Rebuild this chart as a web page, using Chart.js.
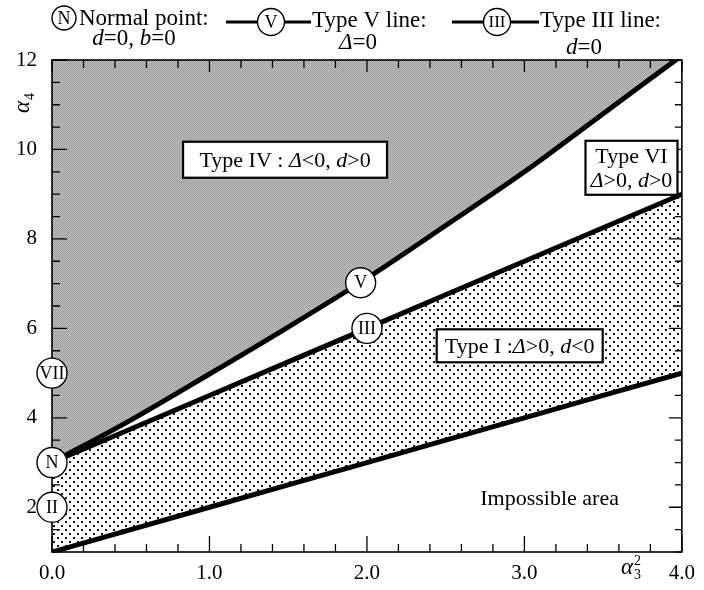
<!DOCTYPE html>
<html><head><meta charset="utf-8">
<script src="https://cdn.jsdelivr.net/npm/chart.js@4.4.1/dist/chart.umd.min.js"></script>
<style>html,body{margin:0;padding:0;background:#fff}#wrap{width:704px;height:590px;position:relative}</style>
</head><body><div id="wrap"><canvas id="c" width="704" height="590"></canvas></div>
<script>
// ---- data ----
const xPoints      = [0, 0.5, 1, 1.5, 2, 2.5, 3, 3.5, 4];
const typeVLine    = [3.0, 3.95, 4.98, 6.03, 7.12, 8.3, 9.5, 10.8, 12.1];
const typeIIILine  = [3.0, 3.75, 4.5, 5.25, 6.0, 6.75, 7.5, 8.25, 9.0];
const limitLine    = [1.0, 1.5, 2.0, 2.5, 3.0, 3.5, 4.0, 4.5, 5.0];
const markerNames  = ['N', 'II', 'VII', 'V', 'III'];
const markerX      = [0, 0, 0, 1.96, 2.0];
const markerY      = [3.0, 2.0, 5.0, 7.02, 6.0];
const xTickValues  = [0, 1, 2, 3, 4];
const yTickValues  = [2, 4, 6, 8, 10, 12];
const regionNames  = ['Type IV', 'Type VI', 'Type I', 'Impossible area'];
const regionX      = [1.48, 3.68, 2.97, 3.16];
const regionY      = [9.77, 9.59, 5.61, 2.21];

const SERIF = '"Liberation Serif", "Times New Roman", serif';

function pts(xs, ys){ return xs.map((x,i)=>({x, y: ys[i]})); }

// patterns
function grayPattern(){
  const c=document.createElement('canvas'); c.width=4; c.height=4;
  const g=c.getContext('2d');
  const tile=[['#9a9a9a','#c2c2c2','#a0a0a0','#bdbdbd'],
              ['#c0c0c0','#959595','#c4c4c4','#9c9c9c'],
              ['#a2a2a2','#bebebe','#989898','#c1c1c1'],
              ['#bcbcbc','#9e9e9e','#c3c3c3','#969696']];
  for(let r=0;r<4;r++)for(let q=0;q<4;q++){g.fillStyle=tile[r][q];g.fillRect(q,r,1,1);}
  return g.createPattern(c,'repeat');
}
function dotPattern(){
  const c=document.createElement('canvas'); c.width=8; c.height=8;
  const g=c.getContext('2d');
  g.fillStyle='#fff'; g.fillRect(0,0,8,8);
  g.fillStyle='#111'; g.fillRect(1,1,2,2); g.fillRect(5,5,2,2);
  return g.createPattern(c,'repeat');
}
const ctx0=document.getElementById('c').getContext('2d');

function richWidth(ctx, segs, size){
  let w=0; segs.forEach(s=>{ctx.font=(s.i?'italic ':'')+size+'px '+SERIF; w+=ctx.measureText(s.t).width;}); return w;
}
function drawRich(ctx, segs, x, y, size, align){
  const w=richWidth(ctx,segs,size);
  let cx = align==='center'? x-w/2 : (align==='right'? x-w : x);
  ctx.textAlign='left';
  segs.forEach(s=>{ctx.font=(s.i?'italic ':'')+size+'px '+SERIF; ctx.fillText(s.t,cx,y); cx+=ctx.measureText(s.t).width;});
  return w;
}
function circleLabel(ctx, cx, cy, r, label, size){
  ctx.save();
  ctx.beginPath(); ctx.arc(cx,cy,r,0,Math.PI*2); ctx.fillStyle='#fff'; ctx.fill();
  ctx.lineWidth=1.4; ctx.strokeStyle='#000'; ctx.stroke();
  ctx.fillStyle='#000'; ctx.font=size+'px '+SERIF; ctx.textAlign='center'; ctx.textBaseline='middle';
  ctx.fillText(label,cx,cy+1);
  ctx.restore();
}

const regionText = {
  'Type IV': [[{t:'Type IV : '},{t:'Δ',i:true},{t:'<0, '},{t:'d',i:true},{t:'>0'}]],
  'Type VI': [[{t:'Type VI'}],[{t:'Δ',i:true},{t:'>0, '},{t:'d',i:true},{t:'>0'}]],
  'Type I':  [[{t:'Type I :'},{t:'Δ',i:true},{t:'>0, '},{t:'d',i:true},{t:'<0'}]],
  'Impossible area': [[{t:'Impossible area'}]]
};
const regionBox = { 'Type IV':[204,36], 'Type VI':[92,54], 'Type I':[166,33], 'Impossible area':null };

const framePlugin = {
  id:'frame',
  beforeDatasetDraw(chart, args){
    if (args.index!==3) return;
    const {ctx, chartArea:a, scales:{x,y}} = chart;
    ctx.save();
    ctx.strokeStyle='#000'; ctx.lineWidth=1.6;
    ctx.strokeRect(a.left, a.top, a.right-a.left, a.bottom-a.top);
    ctx.lineWidth=1.3;
    ctx.beginPath();
    for (let i=0;i<=20;i++){
      const p=x.getPixelForValue(i*0.2), major=(i%5===0);
      ctx.moveTo(p,a.bottom); ctx.lineTo(p,a.bottom-(major?16:8));
      ctx.moveTo(p,a.top); ctx.lineTo(p,a.top+(major?12:8));
    }
    for (let i=0;i<=22;i++){
      const v=1+i*0.5, p=y.getPixelForValue(v), major=(v%2===0);
      ctx.moveTo(a.left,p); ctx.lineTo(a.left+(major?15:8),p);
      ctx.moveTo(a.right,p); ctx.lineTo(a.right-(major?13:7),p);
    }
    ctx.stroke();
    ctx.restore();
  },
  afterDatasetsDraw(chart){
    const {ctx, scales:{x,y}} = chart;
    ctx.save();
    ctx.fillStyle='#000';
    const meta=chart.getDatasetMeta(3);
    meta.data.forEach((pt,i)=>{
      ctx.font='18px '+SERIF; ctx.textAlign='center'; ctx.textBaseline='middle';
      ctx.fillText(markerNames[i], pt.x, pt.y+1);
    });
    regionNames.forEach((name,i)=>{
      const cx=x.getPixelForValue(regionX[i]), cy=y.getPixelForValue(regionY[i]);
      const box=regionBox[name]; const lines=regionText[name];
      if (box){
        ctx.fillStyle='#fff'; ctx.fillRect(cx-box[0]/2, cy-box[1]/2, box[0], box[1]);
        ctx.strokeStyle='#000'; ctx.lineWidth=2.2; ctx.strokeRect(cx-box[0]/2, cy-box[1]/2, box[0], box[1]);
      }
      ctx.fillStyle='#000'; ctx.textBaseline='middle';
      const lh=24, n=lines.length;
      lines.forEach((segs,k)=>{
        drawRich(ctx, segs, cx, cy+(k-(n-1)/2)*lh+1, 22, 'center');
      });
    });
    ctx.restore();
  },
  afterDraw(chart){
    const {ctx} = chart;
    ctx.save(); ctx.fillStyle='#000'; ctx.strokeStyle='#000';
    ctx.textBaseline='alphabetic';
    circleLabel(ctx, 64, 18, 12, 'N', 18);
    ctx.fillStyle='#000';
    drawRich(ctx, [{t:'Normal point:'}], 79, 25, 23, 'left');
    drawRich(ctx, [{t:'d',i:true},{t:'=0, '},{t:'b',i:true},{t:'=0'}], 134, 45, 23, 'center');
    ctx.lineWidth=3.2;
    ctx.beginPath(); ctx.moveTo(226,22); ctx.lineTo(258,22); ctx.moveTo(285,22); ctx.lineTo(311,22); ctx.stroke();
    circleLabel(ctx, 271, 22, 13.5, 'V', 18);
    ctx.fillStyle='#000'; ctx.textBaseline='alphabetic';
    drawRich(ctx, [{t:'Type V line:'}], 312, 27, 23, 'left');
    drawRich(ctx, [{t:'Δ',i:true},{t:'=0'}], 358, 49, 23, 'center');
    ctx.lineWidth=3.2;
    ctx.beginPath(); ctx.moveTo(452,22); ctx.lineTo(485,22); ctx.moveTo(510,22); ctx.lineTo(539,22); ctx.stroke();
    circleLabel(ctx, 497, 22, 13.5, 'III', 17);
    ctx.fillStyle='#000'; ctx.textBaseline='alphabetic';
    drawRich(ctx, [{t:'Type III line:'}], 540, 27, 23, 'left');
    drawRich(ctx, [{t:'d',i:true},{t:'=0'}], 584, 54, 23, 'center');
    ctx.save();
    ctx.translate(29, 113); ctx.rotate(-Math.PI/2);
    ctx.font='italic 23px '+SERIF; ctx.textAlign='left'; ctx.fillText('α',0,0);
    const aw=ctx.measureText('α').width;
    ctx.font='14px '+SERIF; ctx.fillText('4', aw+1, 5);
    ctx.restore();
    ctx.font='italic 23px '+SERIF; ctx.textAlign='left'; ctx.fillText('α',621,574);
    const w2=ctx.measureText('α').width;
    ctx.font='14px '+SERIF; ctx.fillText('2',621+w2+1,565); ctx.fillText('3',621+w2+1,579);
    ctx.restore();
  }
};

const tickFont = {family: SERIF, size: 21};

new Chart(ctx0, {
  type:'line',
  data:{ datasets:[
    { label:'Type V line', data:pts(xPoints,typeVLine), borderColor:'#000', borderWidth:5, pointRadius:0,
      fill:'end', backgroundColor:grayPattern(), cubicInterpolationMode:'monotone', order:1 },
    { label:'Type III line', data:pts(xPoints,typeIIILine), borderColor:'#000', borderWidth:5, pointRadius:0,
      fill:false, order:1 },
    { label:'Limit line', data:pts(xPoints,limitLine), borderColor:'#000', borderWidth:5, pointRadius:0,
      fill:1, backgroundColor:dotPattern(), order:1 },
    { label:'Points', data:pts(markerX,markerY), showLine:false, pointRadius:15, pointHoverRadius:15,
      pointBackgroundColor:'#fff', pointBorderColor:'#000', pointBorderWidth:1.4, clip:false, order:0 }
  ]},
  options:{
    responsive:false, animation:false, devicePixelRatio:1,
    layout:{padding:{top:60, right:22, left:0, bottom:0}},
    plugins:{legend:{display:false}, tooltip:{enabled:false}},
    events:[],
    scales:{
      x:{ type:'linear', min:0, max:4,
          afterBuildTicks:s=>{ s.ticks = xTickValues.map(v=>({value:v})); },
          afterFit:s=>{ s.height=38; },
          grid:{display:false, drawTicks:false}, border:{display:false},
          ticks:{ callback:v=>Number(v).toFixed(1), font:tickFont, color:'#000', padding:9, maxRotation:0, autoSkip:false } },
      y:{ type:'linear', min:1, max:12,
          afterBuildTicks:s=>{ s.ticks = yTickValues.map(v=>({value:v})); },
          afterFit:s=>{ s.width=52; },
          grid:{display:false, drawTicks:false}, border:{display:false},
          ticks:{ font:tickFont, color:'#000', padding:15, autoSkip:false } }
    }
  },
  plugins:[framePlugin]
});
</script>
</body></html>
